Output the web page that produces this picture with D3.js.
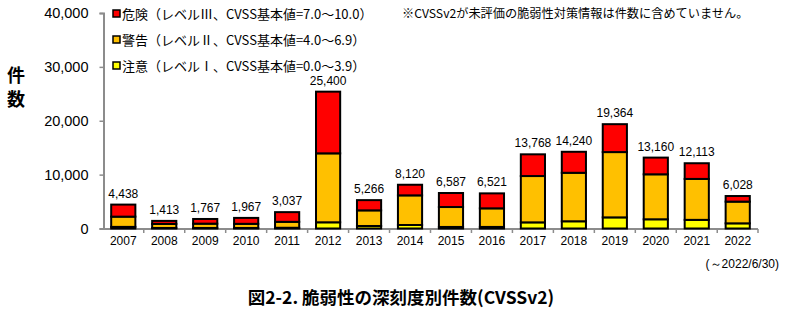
<!DOCTYPE html>
<html><head><meta charset="utf-8">
<script src="https://cdn.jsdelivr.net/npm/d3@7"></script>
<style>body{margin:0;background:#fff}svg{display:block}</style>
</head><body><svg id="c" width="797" height="324"></svg>
<script>
const years = ["2007","2008","2009","2010","2011","2012","2013","2014","2015","2016","2017","2018","2019","2020","2021","2022"];
const caution = [300,100,100,100,137,1150,466,650,287,290,1138,1340,2064,1710,1603,958];
const warning = [1900,750,797,767,1100,12800,2900,5500,3700,3451,8600,9000,12120,8350,7600,4030];
const danger  = [2238,563,870,1100,1800,11450,1900,1970,2600,2780,4030,3900,5180,3100,2910,1040];
const totals  = [4438,1413,1767,1967,3037,25400,5266,8120,6587,6521,13768,14240,19364,13160,12113,6028];
const yTicks = [0,10000,20000,30000,40000];
const seriesNames = ["caution","warning","danger"];
const legendLabels = ["危険（レベルⅢ、CVSS基本値=7.0～10.0）","警告（レベルⅡ、CVSS基本値=4.0～6.9）","注意（レベルⅠ、CVSS基本値=0.0～3.9）"];
const legendKeys = ["danger","warning","caution"];
const colors = {caution:"#ffff00", warning:"#ffc000", danger:"#ff0000"};

const svg = d3.select("#c");
const jp = "'Noto Sans CJK JP','Liberation Sans',sans-serif";
const num = "'Liberation Sans',Arial,sans-serif";
const x = d3.scaleBand().domain(years).range([103, 758]).paddingInner(0.41).paddingOuter(0.2);
const y = d3.scaleLinear().domain([0, 40000]).range([228.5, 13]);

const rows = years.map((yr,i)=>({year:yr, caution:caution[i], warning:warning[i], danger:danger[i]}));
const stack = d3.stack().keys(seriesNames)(rows);

// axes
const ya = svg.append("g").attr("transform","translate(103.5,0)")
  .call(d3.axisLeft(y).tickValues(yTicks).tickSize(4).tickFormat(d3.format(",")));
ya.select(".domain").attr("stroke","#8c8c8c").attr("stroke-width",2);
ya.selectAll(".tick line").attr("stroke","#8c8c8c").attr("stroke-width",1.5);
ya.selectAll(".tick text").attr("font-family",num).attr("font-size",14.5).attr("fill","#000").attr("x",-15);

const xa = svg.append("g").attr("transform","translate(0,229)")
  .call(d3.axisBottom(x).tickSize(0).tickSizeOuter(0));
xa.select(".domain").attr("stroke","#8c8c8c").attr("stroke-width",2).attr("d","M103,0H758");
xa.selectAll(".tick text").attr("font-family",num).attr("font-size",12).attr("fill","#000").attr("dy","1.05em");
// category separator ticks
svg.append("g").selectAll("line").data(years.slice(1).concat(["end"])).join("line")
  .attr("x1",(d,i)=> i<years.length-1 ? x(d)-x.step()*x.paddingInner()/2 : 758)
  .attr("x2",(d,i)=> i<years.length-1 ? x(d)-x.step()*x.paddingInner()/2 : 758)
  .attr("y1",229).attr("y2",233).attr("stroke","#8c8c8c").attr("stroke-width",1.5);

// bars
svg.append("g").selectAll("g").data(stack).join("g")
  .attr("fill",d=>colors[d.key])
  .selectAll("rect").data(d=>d).join("rect")
  .attr("x",d=>x(d.data.year)).attr("width",x.bandwidth())
  .attr("y",d=>y(d[1])).attr("height",d=>y(d[0])-y(d[1]))
  .attr("stroke","#000").attr("stroke-width",2);

// totals
svg.append("g").selectAll("text").data(years).join("text")
  .attr("x",d=>x(d)+x.bandwidth()/2).attr("y",(d,i)=>y(totals[i])-7)
  .attr("text-anchor","middle").attr("font-family",num).attr("font-size",12)
  .text((d,i)=>d3.format(",")(totals[i]));

// y label
svg.append("text").attr("x",16).attr("y",82).attr("text-anchor","middle")
  .attr("font-family",jp).attr("font-weight","bold").attr("font-size",18).text("件");
svg.append("text").attr("x",16).attr("y",106).attr("text-anchor","middle")
  .attr("font-family",jp).attr("font-weight","bold").attr("font-size",18).text("数");

// legend
const lg = svg.append("g");
legendKeys.forEach((k,i)=>{
  const yy = 14 + i*26;
  lg.append("rect").attr("x",113).attr("y",yy-4).attr("width",7).attr("height",7)
    .attr("fill",colors[k]).attr("stroke","#000").attr("stroke-width",1.5);
  lg.append("text").attr("x",122).attr("y",yy+4.5).attr("font-family",jp).attr("font-size",13)
    .text(legendLabels[i]);
});

// note
svg.append("text").attr("x",402).attr("y",18).attr("font-family",jp).attr("font-size",12.2)
  .text("※CVSSv2が未評価の脆弱性対策情報は件数に含めていません。");

// period
svg.append("text").attr("x",779).attr("y",268).attr("text-anchor","end").attr("font-family",num).attr("font-size",12)
  .text("(～2022/6/30)");

// title
svg.append("text").attr("x",401).attr("y",304).attr("text-anchor","middle").attr("font-family",jp)
  .attr("font-weight","bold").attr("font-size",17.5).text("図2-2. 脆弱性の深刻度別件数(CVSSv2)");
</script></body></html>
